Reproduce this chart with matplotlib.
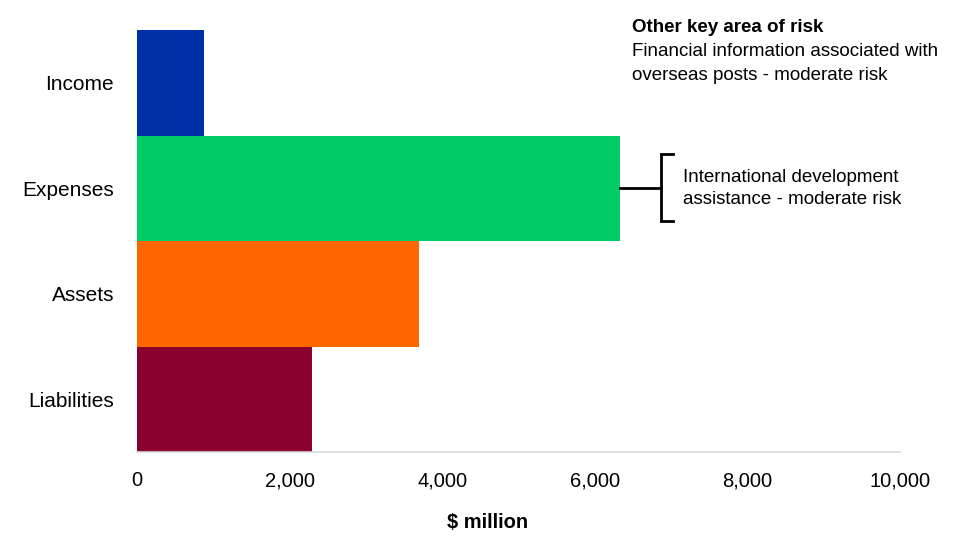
import matplotlib
matplotlib.use("Agg")
import matplotlib.pyplot as plt
from matplotlib.ticker import FuncFormatter

categories = ["Income", "Expenses", "Assets", "Liabilities"]
values = [880, 6330, 3700, 2300]
colors = ["#0030A8", "#00CC66", "#FF6600", "#8A002E"]
xticks = [0, 2000, 4000, 6000, 8000, 10000]

plt.rcParams['font.family'] = ['Liberation Sans', 'DejaVu Sans']

fig = plt.figure(figsize=(9.61, 5.52), dpi=100)
ax = fig.add_axes([137/961, 1-452/552, (900-137)/961, (452-30)/552])

ypos = list(range(len(categories)))
ax.barh(ypos, values, height=1.0, color=colors)
ax.set_ylim(len(categories)-0.5, -0.5)
ax.set_xlim(0, 10000)
ax.set_yticks(ypos)
ax.set_yticklabels(categories, fontsize=15)
ax.set_xticks(xticks)
ax.xaxis.set_major_formatter(FuncFormatter(lambda v, p: f"{int(v):,}"))
for lab in ax.get_xticklabels():
    lab.set_fontsize(14.5)
ax.tick_params(axis='both', length=0)
ax.tick_params(axis='x', pad=14)
ax.tick_params(axis='y', pad=16.5)
for s in ['top', 'right', 'left']:
    ax.spines[s].set_visible(False)
ax.spines['bottom'].set_color('#D9D9D9')
ax.spines['bottom'].set_linewidth(1.2)

fig.text(488/961, 1-523/552, "$ million", fontsize=14.5, fontweight='bold',
         ha='center', va='center')

# bracket annotation for expenses
bx = 6870
ax.plot([values[1], bx], [1, 1], color='black', lw=2, clip_on=False)
ax.plot([7030, bx, bx, 7030], [0.675, 0.675, 1.31, 1.31], color='black', lw=2,
        clip_on=False, solid_joinstyle='miter')
fig.text(683/961, 1-182/552, "International development", fontsize=13.5,
         va='baseline', ha='left')
fig.text(683/961, 1-204.5/552, "assistance - moderate risk", fontsize=13.5,
         va='baseline', ha='left')

fig.text(632/961, 1-31.5/552, "Other key area of risk", fontsize=13.5,
         fontweight='bold', va='baseline', ha='left')
fig.text(632/961, 1-55.5/552, "Financial information associated with", fontsize=13.5,
         va='baseline', ha='left')
fig.text(632/961, 1-79.5/552, "overseas posts - moderate risk", fontsize=13.5,
         va='baseline', ha='left')

fig.savefig("out.png", dpi=100)
